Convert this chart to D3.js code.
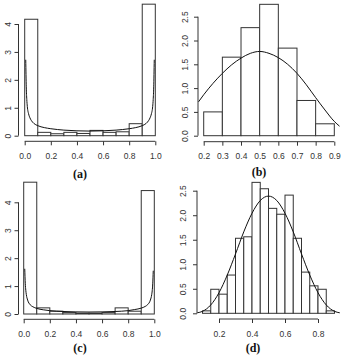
<!DOCTYPE html>
<html>
<head>
<meta charset="utf-8">
<script src="https://cdn.jsdelivr.net/npm/d3@7"></script>
<style>
  html, body { margin: 0; padding: 0; background: #fff; }
  svg { display: block; }
  .tick-label { font-family: "Liberation Sans", Arial, Helvetica, sans-serif; font-size: 8.5px; fill: #333; }
  .panel-title { font-family: "Liberation Serif", "Times New Roman", serif; font-weight: bold; font-size: 12px; fill: #111; }
</style>
</head>
<body>
<svg id="chart" width="346" height="355"></svg>
<script>
// ---------------- DATA ----------------
// Panel (a): histogram, bin width 0.1 from 0 to 1
const binsA = [0.0, 0.1, 0.2, 0.3, 0.4, 0.5, 0.6, 0.7, 0.8, 0.9, 1.0];
const densA = [4.17, 0.12, 0.07, 0.12, 0.08, 0.19, 0.12, 0.14, 0.43, 4.71];
const curveAx = [0.008, 0.012, 0.016, 0.02, 0.03, 0.04, 0.05, 0.07, 0.1, 0.15, 0.2, 0.3, 0.4, 0.5, 0.6, 0.7, 0.8, 0.85, 0.9, 0.93, 0.95, 0.96, 0.97, 0.98, 0.984, 0.988, 0.992];
const curveAy = [2.72, 1.75, 1.3, 1.05, 0.78, 0.64, 0.55, 0.44, 0.36, 0.29, 0.25, 0.2, 0.175, 0.165, 0.175, 0.2, 0.25, 0.29, 0.36, 0.44, 0.55, 0.64, 0.78, 1.05, 1.3, 1.75, 2.72];
const xTicksA = [0.0, 0.2, 0.4, 0.6, 0.8, 1.0];
const yTicksA = [0, 1, 2, 3, 4];

// Panel (b): histogram, bin width 0.1 from 0.2 to 0.9
const binsB = [0.2, 0.3, 0.4, 0.5, 0.6, 0.7, 0.8, 0.9];
const densB = [0.5, 1.65, 2.27, 2.76, 1.84, 0.74, 0.25];
const curveBx = [0.172, 0.2, 0.25, 0.3, 0.35, 0.4, 0.45, 0.5, 0.55, 0.6, 0.65, 0.7, 0.75, 0.8, 0.85, 0.9, 0.928];
const curveBy = [0.71, 0.86, 1.1, 1.31, 1.49, 1.63, 1.73, 1.77, 1.73, 1.64, 1.5, 1.31, 1.07, 0.8, 0.54, 0.3, 0.2];
const xTicksB = [0.2, 0.3, 0.4, 0.5, 0.6, 0.7, 0.8, 0.9];
const yTicksB = [0.0, 0.5, 1.0, 1.5, 2.0, 2.5];

// Panel (c): histogram, bin width 0.1 from 0 to 1
const binsC = [0.0, 0.1, 0.2, 0.3, 0.4, 0.5, 0.6, 0.7, 0.8, 0.9, 1.0];
const densC = [4.72, 0.22, 0.1, 0.05, 0.03, 0.03, 0.05, 0.22, 0.1, 4.42];
const curveCx = [0.008, 0.012, 0.016, 0.02, 0.03, 0.05, 0.07, 0.1, 0.15, 0.2, 0.3, 0.4, 0.5, 0.6, 0.7, 0.8, 0.85, 0.9, 0.93, 0.95, 0.97, 0.98, 0.984, 0.988, 0.992];
const curveCy = [1.62, 1.1, 0.85, 0.7, 0.5, 0.33, 0.26, 0.2, 0.15, 0.12, 0.09, 0.075, 0.07, 0.075, 0.09, 0.12, 0.16, 0.21, 0.27, 0.34, 0.5, 0.69, 0.83, 1.08, 1.55];
const xTicksC = [0.0, 0.2, 0.4, 0.6, 0.8, 1.0];
const yTicksC = [0, 1, 2, 3, 4];

// Panel (d): histogram, bin width 0.05 from 0.1 to 0.9
const binsD = [0.1, 0.15, 0.2, 0.25, 0.3, 0.35, 0.4, 0.45, 0.5, 0.55, 0.6, 0.65, 0.7, 0.75, 0.8, 0.85, 0.9];
const densD = [0.05, 0.49, 0.39, 0.78, 1.53, 1.56, 2.67, 2.54, 2.14, 2.02, 2.41, 1.53, 0.84, 0.56, 0.49, 0.05];
const curveDx = [0.068, 0.1, 0.15, 0.2, 0.25, 0.3, 0.35, 0.4, 0.45, 0.5, 0.55, 0.6, 0.65, 0.7, 0.75, 0.8, 0.85, 0.9, 0.932];
const curveDy = [0.01, 0.04, 0.17, 0.42, 0.78, 1.21, 1.66, 2.04, 2.3, 2.39, 2.3, 2.04, 1.66, 1.21, 0.78, 0.42, 0.17, 0.04, 0.01];
const xTicksD = [0.2, 0.4, 0.6, 0.8];
const yTicksD = [0.0, 0.5, 1.0, 1.5, 2.0, 2.5];

const titles = ["(a)", "(b)", "(c)", "(d)"];

// ---------------- LAYOUT ----------------
const panels = [
  { bins: binsA, dens: densA, cx: curveAx, cy: curveAy, xt: xTicksA, yt: yTicksA, fmtX: d3.format(".1f"), fmtY: d3.format("d"),
    xDom: [0, 1], xRng: [24.7, 155.3], yDom: [0, 4], yRng: [135.7, 24.0], yAxisX: 18.5, xAxisY: 141.3, yLabX: 7.5, titleX: 80, titleY: 177.5, title: titles[0] },
  { bins: binsB, dens: densB, cx: curveBx, cy: curveBy, xt: xTicksB, yt: yTicksB, fmtX: d3.format(".1f"), fmtY: d3.format(".1f"),
    xDom: [0.2, 0.9], xRng: [203.7, 334.3], yDom: [0, 2.5], yRng: [135.7, 16.7], yAxisX: 198, xAxisY: 141.7, yLabX: 184.5, titleX: 259, titleY: 176, title: titles[1] },
  { bins: binsC, dens: densC, cx: curveCx, cy: curveCy, xt: xTicksC, yt: yTicksC, fmtX: d3.format(".1f"), fmtY: d3.format("d"),
    xDom: [0, 1], xRng: [23.7, 154.3], yDom: [0, 4], yRng: [314, 202.3], yAxisX: 18.5, xAxisY: 319.3, yLabX: 7.5, titleX: 80, titleY: 352, title: titles[2] },
  { bins: binsD, dens: densD, cx: curveDx, cy: curveDy, xt: xTicksD, yt: yTicksD, fmtX: d3.format(".1f"), fmtY: d3.format(".1f"),
    xDom: [0.2, 0.8], xRng: [219, 318], yDom: [0, 2.5], yRng: [313.3, 190.7], yAxisX: 197, xAxisY: 319, yLabX: 183, titleX: 253, titleY: 352, title: titles[3] }
];

const svg = d3.select("#chart");
const stroke = "#333";

panels.forEach(p => {
  const x = d3.scaleLinear().domain(p.xDom).range(p.xRng);
  const y = d3.scaleLinear().domain(p.yDom).range(p.yRng);
  const g = svg.append("g");

  // bars
  const barData = p.dens.map((d, i) => ({ x0: p.bins[i], x1: p.bins[i + 1], v: d }));
  g.selectAll("rect.bar").data(barData).enter().append("rect")
    .attr("class", "bar")
    .attr("x", d => x(d.x0))
    .attr("width", d => x(d.x1) - x(d.x0))
    .attr("y", d => y(d.v))
    .attr("height", d => y(0) - y(d.v))
    .attr("fill", "#fff")
    .attr("stroke", stroke)
    .attr("stroke-width", 1);

  // curve
  const pts = p.cx.map((v, i) => [v, p.cy[i]]);
  g.append("path")
    .datum(pts)
    .attr("fill", "none")
    .attr("stroke", "#111")
    .attr("stroke-width", 1)
    .attr("d", d3.line().x(d => x(d[0])).y(d => y(d[1])).curve(d3.curveMonotoneX));

  // x axis (R style: line spans first..last tick, ticks down)
  const xAxis = d3.axisBottom(x).tickValues(p.xt).tickFormat(p.fmtX).tickSizeInner(4).tickSizeOuter(0);
  const gx = g.append("g").attr("transform", `translate(0,${p.xAxisY})`).call(xAxis);
  gx.select(".domain").attr("d", `M${x(p.xt[0])},0H${x(p.xt[p.xt.length - 1])}`).attr("stroke", stroke);
  gx.selectAll(".tick line").attr("stroke", stroke);
  gx.selectAll(".tick text").attr("class", "tick-label").attr("y", 14.5).attr("dy", null)
    .attr("dominant-baseline", "central").attr("fill", null);

  // y axis
  const yAxis = d3.axisLeft(y).tickValues(p.yt).tickFormat(p.fmtY).tickSizeInner(4).tickSizeOuter(0);
  const gy = g.append("g").attr("transform", `translate(${p.yAxisX},0)`).call(yAxis);
  gy.select(".domain").attr("d", `M0,${y(p.yt[0])}V${y(p.yt[p.yt.length - 1])}`).attr("stroke", stroke);
  gy.selectAll(".tick line").attr("stroke", stroke);
  gy.selectAll(".tick text")
    .attr("class", "tick-label")
    .attr("x", null).attr("dy", null).attr("fill", null)
    .attr("text-anchor", "middle")
    .attr("dominant-baseline", "central")
    .attr("transform", `translate(${p.yLabX - p.yAxisX},0) rotate(-90)`);

  gx.attr("font-family", null).attr("font-size", null);
  gy.attr("font-family", null).attr("font-size", null);

  // title
  svg.append("text")
    .attr("class", "panel-title")
    .attr("x", p.titleX)
    .attr("y", p.titleY)
    .attr("text-anchor", "middle")
    .text(p.title);
});
</script>
</body>
</html>
